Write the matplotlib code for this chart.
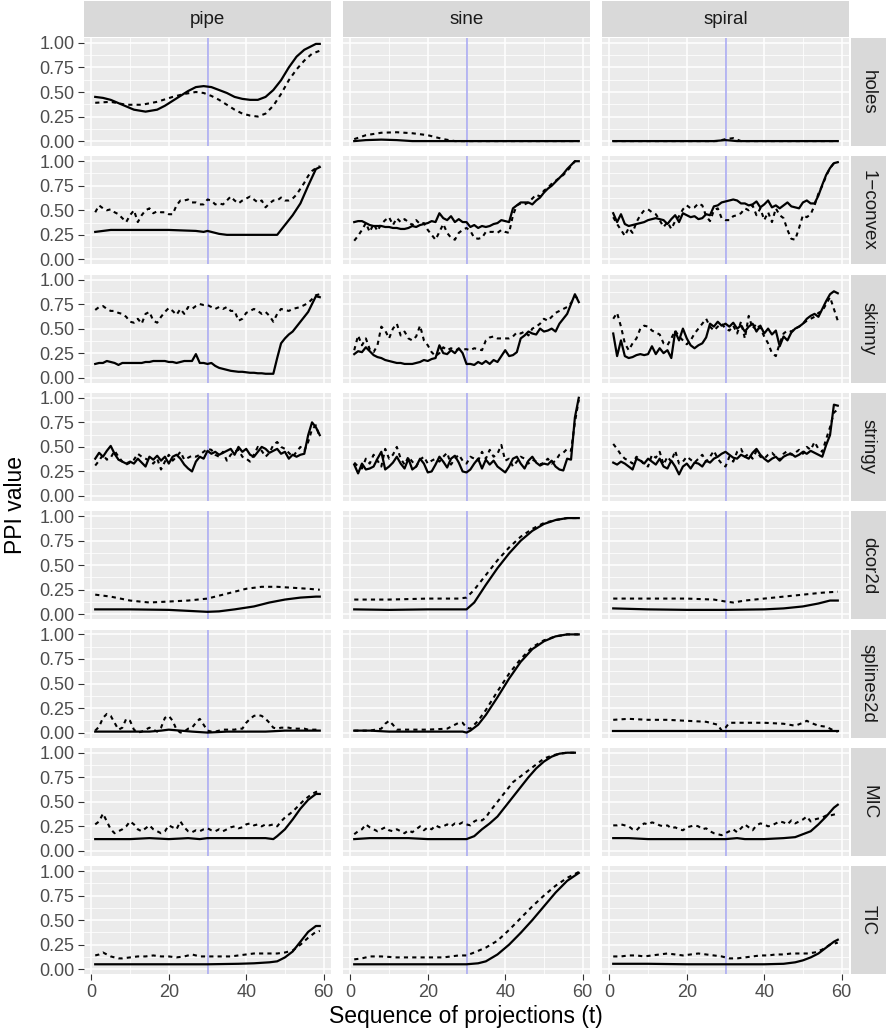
import numpy as np
import matplotlib
matplotlib.use("Agg")
import matplotlib.pyplot as plt

plt.rcParams['font.family'] = ['Liberation Sans', 'DejaVu Sans']

# facets
shapes = ['pipe', 'sine', 'spiral']
indexes = ['holes', '1\u2212convex', 'skinny', 'stringy', 'dcor2d', 'splines2d', 'MIC', 'TIC']
guided_t = 30

# ---- holes (smooth, knots) ----
holes_pipe_solid_t = [1, 3, 5, 8, 11, 14, 17, 19, 21, 23, 25, 27, 29, 31, 33, 35, 37, 39, 41, 43, 45, 47,
                      49, 51, 53, 55, 57, 58, 59]
holes_pipe_solid = [.45, .44, .42, .37, .32, .30, .32, .36, .41, .46, .51, .55, .56, .55, .52, .49, .45, .43,
                    .42, .42, .45, .52, .62, .75, .86, .93, .97, .99, .99]
holes_pipe_dash_t = [1, 5, 9, 13, 17, 21, 24, 27, 29, 31, 33, 35, 37, 39, 41, 43, 45, 47, 49, 51, 53, 55, 57, 59]
holes_pipe_dash = [.39, .40, .37, .37, .40, .45, .48, .50, .49, .46, .42, .37, .32, .28, .26, .25, .28, .36,
                   .48, .62, .73, .82, .89, .92]
holes_sine_solid_t = [1, 4, 8, 12, 16, 20, 59]
holes_sine_solid = [.0, .01, .015, .01, .0, .0, .0]
holes_sine_dash_t = [1, 4, 8, 12, 16, 20, 24, 27, 59]
holes_sine_dash = [.02, .06, .085, .09, .08, .06, .02, .0, .0]
holes_spiral_solid_t = [1, 27, 30, 33, 59]
holes_spiral_solid = [.0, .0, .01, .0, .0]
holes_spiral_dash_t = [1, 28, 30, 32, 34, 59]
holes_spiral_dash = [.0, .0, .02, .03, .0, .0]

# ---- 1-convex (t = 1..59) ----
convex_pipe_solid_t = [1, 3, 5, 10, 20, 27, 29, 30, 31, 33, 35, 40, 48, 50, 52, 54, 56, 58, 59]
convex_pipe_solid = [.28, .29, .30, .30, .30, .29, .28, .29, .28, .26, .25, .25, .25, .35, .45, .57, .75, .92, .94]
convex_pipe_dash = [.48, .55, .52, .50, .51, .48, .46, .42, .38, .45, .50, .38, .45, .50, .52, .47, .49, .48,
                    .48, .46, .46, .55, .60, .60, .61, .58, .58, .56, .56, .61, .60, .56, .57, .56, .60, .64,
                    .60, .57, .60, .62, .64, .61, .58, .60, .53, .57, .60, .60, .63, .60, .60, .62, .66, .72,
                    .78, .85, .90, .93, .95]
convex_sine_solid = [.38, .39, .39, .37, .35, .34, .34, .34, .33, .33, .32, .32, .31, .31, .32, .34, .33, .35,
                     .36, .37, .39, .38, .47, .42, .40, .44, .38, .41, .38, .38, .33, .35, .32, .34, .33, .34,
                     .36, .37, .40, .39, .38, .52, .55, .58, .58, .58, .56, .60, .63, .68, .72, .75, .79, .83,
                     .87, .92, .96, 1.0, 1.0]
convex_sine_dash = [.19, .24, .30, .37, .28, .36, .29, .36, .40, .43, .35, .42, .38, .41, .38, .35, .40, .36,
                    .37, .30, .25, .20, .28, .36, .27, .22, .20, .27, .30, .32, .29, .22, .21, .22, .28, .28,
                    .28, .27, .30, .28, .27, .45, .55, .57, .56, .58, .62, .66, .64, .70, .73, .77, .80, .83,
                    .86, .90, .95, 1.0, 1.0]
convex_spiral_solid = [.47, .38, .46, .36, .34, .35, .36, .37, .38, .40, .41, .42, .41, .40, .36, .41, .45, .38,
                       .47, .45, .43, .44, .41, .42, .46, .45, .54, .55, .58, .59, .60, .61, .60, .57, .57, .55,
                       .56, .59, .53, .56, .60, .53, .55, .52, .55, .58, .54, .53, .52, .58, .60, .57, .57, .65,
                       .76, .86, .93, .98, .99]
convex_spiral_dash = [.43, .36, .30, .24, .32, .27, .38, .45, .50, .51, .48, .46, .40, .33, .38, .31, .39, .44,
                      .51, .55, .52, .53, .57, .55, .44, .39, .50, .52, .42, .40, .40, .44, .45, .47, .52, .50,
                      .55, .45, .52, .40, .48, .38, .52, .45, .42, .30, .21, .20, .32, .45, .43, .46, .55, .67,
                      .75, .85, .93, .98, .99]

# ---- skinny ----
skinny_pipe_solid = [.14, .15, .15, .17, .16, .15, .13, .15, .15, .15, .15, .15, .15, .16, .16, .17, .17, .17,
                     .17, .16, .16, .15, .16, .17, .17, .17, .24, .15, .15, .14, .15, .12, .10, .09, .08, .07,
                     .065, .06, .06, .055, .05, .05, .045, .045, .04, .04, .04, .20, .35, .40, .44, .47, .52,
                     .57, .62, .67, .75, .83, .82]
skinny_pipe_dash = [.69, .72, .73, .70, .68, .68, .66, .65, .62, .57, .56, .60, .55, .65, .67, .58, .56, .62,
                    .67, .71, .68, .64, .70, .65, .72, .70, .73, .75, .74, .74, .72, .70, .72, .70, .72, .68,
                    .68, .58, .60, .66, .68, .70, .68, .65, .67, .63, .57, .65, .70, .69, .68, .70, .71, .72,
                    .74, .76, .80, .84, .85]
skinny_sine_solid = [.24, .27, .26, .31, .27, .23, .21, .20, .18, .17, .16, .15, .15, .14, .14, .14, .15, .16,
                     .18, .17, .19, .20, .33, .25, .24, .28, .25, .30, .25, .14, .14, .13, .16, .14, .17, .14,
                     .18, .16, .22, .28, .22, .23, .26, .40, .43, .47, .45, .44, .50, .47, .48, .50, .47, .55,
                     .60, .65, .75, .85, .77]
skinny_sine_dash = [.28, .43, .33, .40, .29, .26, .33, .52, .48, .40, .50, .55, .43, .47, .40, .38, .42, .53,
                    .38, .33, .26, .22, .25, .31, .28, .30, .28, .29, .29, .29, .28, .30, .29, .28, .38, .41,
                    .42, .40, .40, .40, .40, .42, .46, .45, .47, .43, .50, .52, .55, .60, .58, .62, .66, .68,
                    .70, .72, .76, .83, .80]
skinny_spiral_solid = [.45, .22, .38, .22, .20, .21, .23, .24, .23, .24, .32, .24, .30, .25, .28, .20, .47, .38,
                       .50, .40, .33, .30, .33, .35, .41, .55, .52, .57, .53, .55, .52, .56, .50, .53, .47, .52,
                       .55, .47, .53, .45, .50, .44, .48, .32, .42, .38, .46, .50, .52, .55, .60, .63, .65, .62,
                       .70, .78, .85, .88, .86]
skinny_spiral_dash = [.60, .66, .52, .35, .28, .35, .40, .50, .53, .52, .48, .46, .44, .35, .33, .40, .48, .42,
                      .38, .34, .38, .45, .50, .55, .60, .52, .48, .52, .55, .50, .48, .53, .45, .57, .40, .63,
                      .50, .55, .50, .42, .35, .25, .22, .35, .45, .48, .47, .50, .52, .55, .58, .60, .62, .66,
                      .68, .75, .82, .70, .58]

# ---- stringy ----
stringy_pipe_solid = [.38, .44, .40, .46, .51, .43, .37, .35, .33, .35, .33, .38, .34, .30, .40, .37, .41, .36,
                      .40, .33, .40, .42, .38, .32, .28, .25, .35, .40, .38, .46, .43, .45, .42, .44, .46, .48,
                      .42, .50, .45, .48, .42, .40, .45, .50, .48, .44, .46, .48, .43, .45, .38, .42, .40, .42,
                      .43, .62, .75, .70, .62]
stringy_pipe_dash = [.31, .36, .42, .37, .39, .46, .40, .35, .32, .34, .37, .43, .40, .38, .36, .33, .38, .27,
                     .35, .42, .36, .40, .45, .37, .39, .41, .40, .42, .45, .48, .47, .42, .40, .45, .36, .42,
                     .45, .47, .40, .38, .35, .42, .50, .46, .40, .44, .52, .55, .50, .48, .44, .40, .45, .50,
                     .46, .55, .68, .72, .60]
stringy_sine_solid = [.32, .23, .33, .27, .28, .30, .38, .45, .27, .30, .34, .40, .33, .28, .38, .27, .30, .38,
                      .33, .24, .25, .32, .40, .35, .29, .38, .41, .34, .25, .24, .27, .33, .38, .28, .37, .32,
                      .36, .30, .27, .24, .30, .38, .40, .33, .28, .36, .40, .34, .31, .33, .32, .36, .30, .27,
                      .26, .38, .37, .80, 1.0]
stringy_sine_dash = [.34, .30, .28, .38, .33, .42, .36, .30, .48, .38, .42, .50, .38, .32, .40, .35, .30, .37,
                     .40, .33, .36, .38, .35, .40, .44, .32, .38, .42, .36, .33, .40, .38, .36, .45, .38, .47,
                     .40, .43, .52, .36, .38, .30, .35, .40, .38, .33, .37, .35, .32, .34, .38, .33, .36, .42,
                     .44, .48, .46, .75, .98]
stringy_spiral_solid = [.34, .32, .35, .33, .30, .27, .38, .36, .33, .38, .35, .32, .38, .30, .28, .36, .30, .22,
                        .30, .33, .28, .34, .33, .30, .36, .34, .38, .40, .43, .45, .42, .39, .38, .42, .40, .38,
                        .44, .48, .42, .38, .35, .38, .40, .36, .40, .42, .43, .40, .42, .45, .43, .46, .44, .42,
                        .40, .52, .62, .93, .92]
stringy_spiral_dash = [.53, .48, .42, .38, .36, .33, .40, .37, .32, .30, .42, .39, .45, .32, .40, .35, .46, .33,
                       .35, .40, .37, .34, .38, .42, .35, .40, .46, .38, .33, .30, .40, .35, .45, .48, .40, .43,
                       .38, .46, .40, .38, .42, .44, .40, .37, .43, .46, .42, .44, .47, .43, .50, .47, .55, .48,
                       .45, .58, .70, .85, .88]

# ---- dcor2d (smooth, knots) ----
dcor_pipe_solid_t = [1, 10, 20, 25, 30, 33, 37, 42, 46, 50, 54, 58, 59]
dcor_pipe_solid = [.05, .05, .045, .035, .025, .03, .05, .08, .12, .15, .17, .18, .18]
dcor_pipe_dash_t = [1, 5, 10, 15, 20, 25, 30, 35, 40, 44, 48, 52, 56, 59]
dcor_pipe_dash = [.20, .18, .14, .12, .13, .14, .16, .21, .26, .28, .28, .27, .26, .25]
dcor_sine_solid_t = [1, 10, 20, 30, 32, 35, 38, 41, 44, 47, 50, 53, 56, 59]
dcor_sine_solid = [.05, .045, .05, .05, .12, .30, .47, .62, .75, .85, .92, .96, .98, .98]
dcor_sine_dash_t = [1, 10, 20, 28, 30, 32, 35, 38, 41, 44, 47, 50, 53, 56, 59]
dcor_sine_dash = [.15, .15, .16, .16, .17, .25, .40, .55, .68, .79, .87, .93, .96, .98, .98]
dcor_spiral_solid_t = [1, 10, 20, 30, 40, 45, 50, 54, 57, 59]
dcor_spiral_solid = [.06, .05, .045, .045, .05, .06, .08, .11, .14, .14]
dcor_spiral_dash_t = [1, 10, 20, 27, 30, 32, 35, 40, 45, 50, 55, 59]
dcor_spiral_dash = [.16, .16, .16, .15, .13, .12, .14, .16, .18, .20, .22, .23]

# ---- splines2d ----
spl_pipe_solid_t = [1, 10, 15, 18, 20, 23, 26, 30, 35, 40, 45, 50, 55, 59]
spl_pipe_solid = [.01, .01, .01, .02, .03, .02, .01, .0, .01, .01, .01, .02, .02, .02]
spl_pipe_dash = [.02, .06, .15, .19, .17, .10, .03, .05, .14, .12, .03, .0, .01, .03, .05, .03, .01, .05,
                 .15, .17, .12, .03, .0, .01, .04, .05, .10, .14, .08, .02, .01, .01, .02, .03, .03, .03,
                 .03, .04, .04, .10, .14, .17, .18, .17, .14, .10, .05, .04, .05, .05, .05, .04, .04, .04,
                 .04, .03, .03, .03, .03]
spl_sine_solid_t = [1, 5, 10, 15, 20, 25, 29, 30, 31, 33, 35, 38, 41, 44, 47, 50, 53, 56, 59]
spl_sine_solid = [.02, .02, .01, .01, .01, .01, .01, .0, .02, .08, .18, .36, .55, .72, .85, .93, .98, 1.0, 1.0]
spl_sine_dash_t = [1, 5, 8, 9, 10, 11, 12, 15, 20, 25, 27, 28, 29, 30, 31, 33, 35, 38, 41, 44, 47, 50, 53, 56, 59]
spl_sine_dash = [.02, .02, .04, .09, .12, .08, .03, .03, .03, .04, .08, .10, .10, .05, .04, .12, .23, .42, .60,
                 .75, .87, .94, .98, 1.0, 1.0]
spl_spiral_solid_t = [1, 10, 20, 30, 40, 50, 55, 59]
spl_spiral_solid = [.02, .02, .02, .02, .02, .02, .02, .02]
spl_spiral_dash_t = [1, 5, 10, 15, 20, 25, 28, 29, 30, 31, 35, 40, 45, 48, 50, 51, 52, 54, 56, 58, 59]
spl_spiral_dash = [.13, .14, .13, .13, .12, .11, .08, .02, .05, .10, .10, .10, .09, .07, .10, .12, .10, .07,
                   .06, .02, .01]

# ---- MIC ----
mic_pipe_solid_t = [1, 5, 10, 15, 20, 25, 28, 30, 35, 40, 45, 47, 48, 50, 52, 54, 56, 58, 59]
mic_pipe_solid = [.12, .12, .12, .13, .12, .13, .12, .13, .13, .13, .13, .12, .15, .22, .32, .43, .52, .58, .58]
mic_pipe_dash = [.27, .30, .38, .30, .22, .18, .20, .22, .25, .30, .27, .22, .20, .23, .26, .22, .20, .18,
                 .20, .26, .24, .22, .30, .24, .20, .19, .21, .20, .22, .23, .21, .20, .22, .20, .22, .24,
                 .25, .23, .24, .27, .28, .26, .27, .25, .27, .26, .27, .25, .30, .34, .37, .40, .44, .48,
                 .52, .55, .58, .60, .61]
mic_sine_solid_t = [1, 5, 10, 15, 20, 25, 30, 32, 34, 36, 38, 40, 42, 44, 46, 48, 50, 52, 54, 56, 58]
mic_sine_solid = [.12, .13, .13, .13, .12, .12, .12, .15, .22, .28, .35, .45, .55, .65, .75, .84, .91, .96,
                  .99, 1.0, 1.0]
mic_sine_dash_t = list(range(1, 36)) + [36, 38, 40, 42, 44, 46, 48, 50, 52, 54, 56, 58]
mic_sine_dash = [.17, .20, .22, .27, .24, .22, .20, .22, .24, .21, .20, .22, .20, .18, .21, .19, .22, .25,
                 .21, .24, .22, .26, .24, .25, .27, .25, .28, .27, .29, .27, .26, .30, .32, .31, .34,
                 .40, .50, .60, .70, .76, .82, .88, .94, .97, .99, 1.0, 1.0]
mic_spiral_solid_t = [1, 5, 10, 15, 20, 25, 30, 33, 35, 40, 45, 48, 50, 52, 54, 56, 58, 59]
mic_spiral_solid = [.13, .13, .12, .12, .12, .12, .12, .13, .12, .12, .13, .14, .17, .20, .27, .35, .44, .47]
mic_spiral_dash = [.26, .26, .27, .26, .25, .22, .21, .25, .28, .27, .29, .28, .26, .25, .26, .23, .24, .22,
                   .21, .24, .25, .26, .25, .22, .23, .20, .18, .17, .16, .18, .20, .22, .19, .23, .27, .24,
                   .21, .26, .28, .27, .25, .26, .28, .30, .29, .27, .31, .28, .30, .32, .35, .30, .32, .33,
                   .34, .36, .36, .37, .38]

# ---- TIC ----
tic_pipe_solid_t = [1, 10, 20, 30, 38, 42, 46, 48, 50, 52, 54, 56, 58, 59]
tic_pipe_solid = [.05, .05, .05, .05, .055, .06, .07, .08, .12, .18, .28, .38, .44, .44]
tic_pipe_dash_t = [1, 2, 3, 4, 5, 6, 7, 8, 10, 12, 14, 16, 18, 20, 22, 24, 26, 28, 30, 32, 34, 36, 38, 40, 42,
                   44, 46, 48, 50, 52, 54, 56, 58, 59]
tic_pipe_dash = [.14, .15, .17, .15, .13, .12, .11, .11, .12, .13, .13, .14, .13, .13, .12, .13, .15, .13, .13,
                 .13, .13, .13, .14, .15, .16, .16, .16, .16, .17, .19, .25, .32, .38, .39]
tic_sine_solid_t = [1, 10, 20, 30, 33, 35, 38, 41, 44, 47, 50, 53, 56, 59]
tic_sine_solid = [.05, .05, .05, .05, .06, .08, .15, .25, .37, .50, .64, .78, .90, .98]
tic_sine_dash_t = [1, 3, 5, 8, 12, 16, 20, 24, 28, 30, 32, 35, 38, 41, 44, 47, 50, 53, 56, 59]
tic_sine_dash = [.10, .11, .13, .13, .12, .12, .12, .12, .14, .14, .17, .22, .29, .40, .52, .64, .75, .85, .93,
                 .99]
tic_spiral_solid_t = [1, 10, 20, 30, 40, 45, 48, 50, 52, 54, 56, 58, 59]
tic_spiral_solid = [.055, .055, .05, .05, .05, .055, .07, .09, .12, .16, .22, .28, .30]
tic_spiral_dash_t = list(range(1, 60, 2))
tic_spiral_dash = [.13, .13, .14, .14, .13, .14, .15, .16, .15, .14, .15, .16, .15, .14, .13, .11, .11, .12,
                   .13, .14, .14, .15, .15, .16, .16, .16, .17, .20, .25, .27]


def with_t(vals, t=None):
    if t is None:
        t = range(1, len(vals) + 1)
    return list(t), vals


# panel table: (solid, dashed) per index row / shape column
panels = {
    0: [(with_t(holes_pipe_solid, holes_pipe_solid_t), with_t(holes_pipe_dash, holes_pipe_dash_t)),
        (with_t(holes_sine_solid, holes_sine_solid_t), with_t(holes_sine_dash, holes_sine_dash_t)),
        (with_t(holes_spiral_solid, holes_spiral_solid_t), with_t(holes_spiral_dash, holes_spiral_dash_t))],
    1: [(with_t(convex_pipe_solid, convex_pipe_solid_t), with_t(convex_pipe_dash)),
        (with_t(convex_sine_solid), with_t(convex_sine_dash)),
        (with_t(convex_spiral_solid), with_t(convex_spiral_dash))],
    2: [(with_t(skinny_pipe_solid), with_t(skinny_pipe_dash)),
        (with_t(skinny_sine_solid), with_t(skinny_sine_dash)),
        (with_t(skinny_spiral_solid), with_t(skinny_spiral_dash))],
    3: [(with_t(stringy_pipe_solid), with_t(stringy_pipe_dash)),
        (with_t(stringy_sine_solid), with_t(stringy_sine_dash)),
        (with_t(stringy_spiral_solid), with_t(stringy_spiral_dash))],
    4: [(with_t(dcor_pipe_solid, dcor_pipe_solid_t), with_t(dcor_pipe_dash, dcor_pipe_dash_t)),
        (with_t(dcor_sine_solid, dcor_sine_solid_t), with_t(dcor_sine_dash, dcor_sine_dash_t)),
        (with_t(dcor_spiral_solid, dcor_spiral_solid_t), with_t(dcor_spiral_dash, dcor_spiral_dash_t))],
    5: [(with_t(spl_pipe_solid, spl_pipe_solid_t), with_t(spl_pipe_dash)),
        (with_t(spl_sine_solid, spl_sine_solid_t), with_t(spl_sine_dash, spl_sine_dash_t)),
        (with_t(spl_spiral_solid, spl_spiral_solid_t), with_t(spl_spiral_dash, spl_spiral_dash_t))],
    6: [(with_t(mic_pipe_solid, mic_pipe_solid_t), with_t(mic_pipe_dash)),
        (with_t(mic_sine_solid, mic_sine_solid_t), with_t(mic_sine_dash, mic_sine_dash_t)),
        (with_t(mic_spiral_solid, mic_spiral_solid_t), with_t(mic_spiral_dash))],
    7: [(with_t(tic_pipe_solid, tic_pipe_solid_t), with_t(tic_pipe_dash, tic_pipe_dash_t)),
        (with_t(tic_sine_solid, tic_sine_solid_t), with_t(tic_sine_dash, tic_sine_dash_t)),
        (with_t(tic_spiral_solid, tic_spiral_solid_t), with_t(tic_spiral_dash, tic_spiral_dash_t))],
}

W, H = 888, 1032
fig = plt.figure(figsize=(W / 100, H / 100), dpi=100)

col_left = [84, 343, 602]
pw = 247
top0 = 38
ph = 108
gap = 10.3

def px(x, y, w, h):
    return [x / W, 1 - (y + h) / H, w / W, h / H]

for r in range(8):
    y0 = top0 + r * (ph + gap)
    for c in range(3):
        ax = fig.add_axes(px(col_left[c], y0, pw, ph))
        ax.set_facecolor('#EBEBEB')
        ax.set_xlim(-1.9, 61.9)
        ax.set_ylim(-0.05, 1.05)
        ax.set_xticks([0, 20, 40, 60])
        ax.set_xticks([10, 30, 50], minor=True)
        ax.set_yticks([0, .25, .5, .75, 1.0])
        ax.set_yticks([.125, .375, .625, .875], minor=True)
        ax.grid(True, which='major', color='white', lw=1.1)
        ax.grid(True, which='minor', color='white', lw=0.55)
        ax.set_axisbelow(True)
        for s in ax.spines.values():
            s.set_visible(False)
        ax.tick_params(which='minor', length=0)
        ax.tick_params(which='major', length=4, width=0.8, color='#333333',
                       labelcolor='#4D4D4D', labelsize=13, pad=3)
        if c == 0:
            ax.set_yticklabels(['0.00', '0.25', '0.50', '0.75', '1.00'])
        else:
            ax.tick_params(axis='y', which='major', length=0, labelleft=False)
        if r == 7:
            ax.set_xticklabels(['0', '20', '40', '60'])
        else:
            ax.tick_params(axis='x', which='major', length=0, labelbottom=False)

        ax.axvline(guided_t, color='#A5A5F1', lw=1.1, zorder=1)
        (ts, vs), (td, vd) = panels[r][c]
        ax.plot(td, vd, color='black', lw=1.5, ls=(0, (2.0, 2.0)), zorder=3)
        ax.plot(ts, vs, color='black', lw=1.6, zorder=4)

        # top strips
        if r == 0:
            sax = fig.add_axes(px(col_left[c], 1, pw, 36))
            sax.set_facecolor('#D9D9D9')
            sax.set_xticks([]); sax.set_yticks([])
            for s in sax.spines.values():
                s.set_visible(False)
            sax.text(0.5, 0.5, shapes[c], ha='center', va='center', fontsize=13.5,
                     color='#1A1A1A', transform=sax.transAxes)

    # right strip
    rax = fig.add_axes(px(851, y0, 35, ph))
    rax.set_facecolor('#D9D9D9')
    rax.set_xticks([]); rax.set_yticks([])
    for s in rax.spines.values():
        s.set_visible(False)
    rax.text(0.5, 0.5, indexes[r], ha='center', va='center', rotation=-90, fontsize=13.5,
             color='#1A1A1A', transform=rax.transAxes)

fig.text(466 / W, 1 - 1016 / H, 'Sequence of projections (t)', ha='center', va='center',
         fontsize=16.5, color='black')
fig.text(16 / W, 1 - 505 / H, 'PPI value', ha='center', va='center', rotation=90,
         fontsize=16.5, color='black')

fig.savefig('out.png', dpi=100)
